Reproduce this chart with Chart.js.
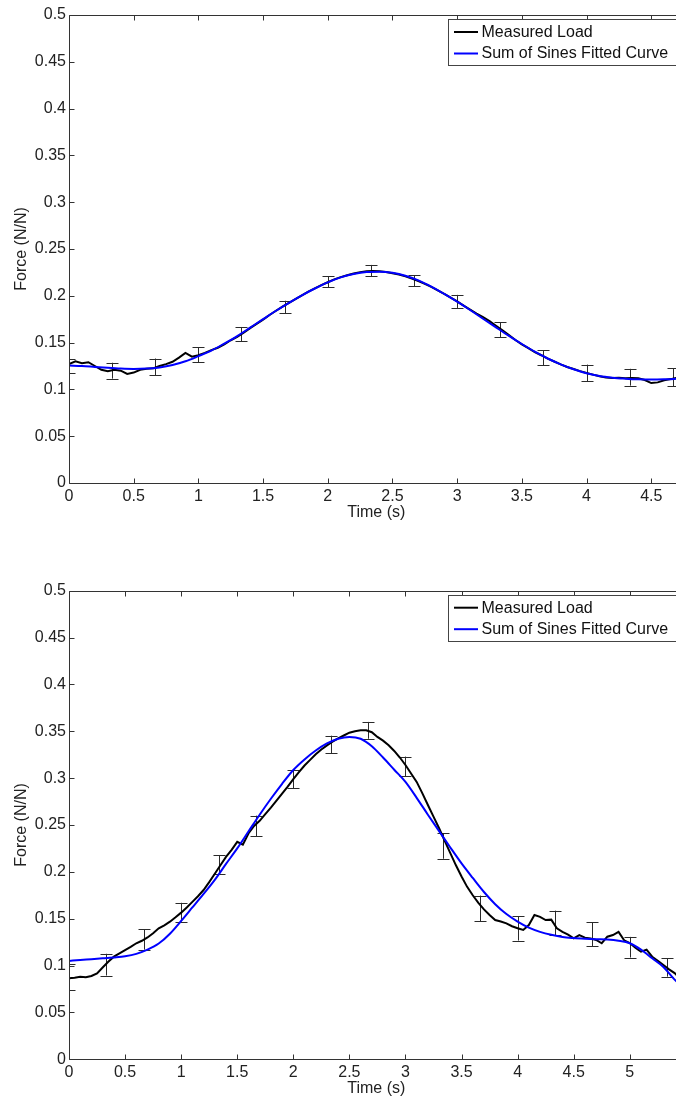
<!DOCTYPE html>
<html><head><meta charset="utf-8">
<script src="https://cdn.jsdelivr.net/npm/chart.js@4.4.1/dist/chart.umd.min.js"></script>
<style>
html,body{margin:0;padding:0;background:#fff;overflow:hidden;width:676px;height:1099px;position:relative;}
canvas{position:absolute;left:0;}
#c1{top:0;} #c2{top:560px;}
</style></head><body>
<canvas id="c1" width="700" height="545"></canvas>
<canvas id="c2" width="700" height="539"></canvas>
<script>
// ---------- shared ticks ----------
const yTicks = [0,0.05,0.1,0.15,0.2,0.25,0.3,0.35,0.4,0.45,0.5];
const yTickLabels = ['0','0.05','0.1','0.15','0.2','0.25','0.3','0.35','0.4','0.45','0.5'];
const seriesLabels = ['Measured Load','Sum of Sines Fitted Curve'];

// ---------- top chart ----------
const topXTicks = [0,0.5,1,1.5,2,2.5,3,3.5,4,4.5];
const topXTickLabels = ['0','0.5','1','1.5','2','2.5','3','3.5','4','4.5'];
const topMeasT = [0,0.05,0.1,0.15,0.2,0.25,0.3,0.35,0.4,0.45,0.5,0.55,0.6,0.65,0.7,0.75,0.8,0.85,0.9,0.95,1,1.05,1.1,1.15,1.2,1.25,1.3,1.35,1.4,1.45,1.5,1.55,1.6,1.65,1.7,1.75,1.8,1.85,1.9,1.95,2,2.05,2.1,2.15,2.2,2.25,2.3,2.35,2.4,2.45,2.5,2.55,2.6,2.65,2.7,2.75,2.8,2.85,2.9,2.95,3,3.05,3.1,3.15,3.2,3.25,3.3,3.35,3.4,3.45,3.5,3.55,3.6,3.65,3.7,3.75,3.8,3.85,3.9,3.95,4,4.05,4.1,4.15,4.2,4.25,4.3,4.35,4.4,4.45,4.5,4.55,4.6,4.65,4.7,4.75];
const topMeasF = [0.127,0.130,0.128,0.129,0.125,0.121,0.1195,0.121,0.120,0.1165,
0.118,0.121,0.122,0.1225,0.125,0.127,0.1295,0.134,0.139,0.135,
0.1365,0.139,0.142,0.1445,0.148,0.1525,0.156,0.1605,0.1655,0.170,
0.1745,0.1795,0.184,0.1885,0.1925,0.1965,0.2005,0.2045,0.2080,0.2115,
0.2145,0.2175,0.2200,0.2220,0.2238,0.2252,0.2262,0.2266,0.2262,0.2254,
0.2242,0.2228,0.2208,0.2185,0.2158,0.2128,0.2095,0.2058,0.2020,0.1980,
0.1940,0.1895,0.1852,0.1810,0.1772,0.1730,0.1680,0.1630,0.1580,0.1528,
0.1482,0.1440,0.1398,0.1365,0.1328,0.1298,0.1268,0.1240,0.1218,0.1195,
0.1175,0.1158,0.1140,0.1128,0.1122,0.1125,0.1120,0.1122,0.1118,0.1100,
0.1068,0.1075,0.1098,0.1110,0.1125,0.1128];
const topFitT = [0,0.1,0.2,0.3,0.4,0.5,0.6,0.7,0.8,0.9,1,1.1,1.2,1.3,1.4,1.5,1.6,1.7,1.8,1.9,2,2.1,2.2,2.3,2.4,2.5,2.6,2.7,2.8,2.9,3,3.1,3.2,3.3,3.4,3.5,3.6,3.7,3.8,3.9,4,4.1,4.2,4.3,4.4,4.5,4.6,4.7,4.75];
const topFitF = [0.1255,0.1250,0.1240,0.1230,0.1222,0.1218,0.1222,0.1235,0.1260,0.1300,
0.1355,0.1415,0.1490,0.1570,0.1660,0.1750,0.1840,0.1925,0.2005,0.2078,
0.2144,0.2197,0.2233,0.2254,0.2258,0.2246,0.2215,0.2165,0.2098,0.2020,
0.1937,0.1848,0.1755,0.1663,0.1572,0.1485,0.1403,0.1330,0.1268,0.1215,
0.1172,0.1142,0.1125,0.1115,0.1108,0.1105,0.1108,0.1115,0.1120];
const topErrT = [0,0.333,0.667,1,1.333,1.667,2,2.333,2.667,3,3.333,3.667,4,4.333,4.667];
const topErrM = [0.1255,0.120,0.124,0.137,0.159,0.188,0.215,0.227,0.216,0.194,0.164,0.134,0.1175,0.113,0.113];
const topErrH = [0.0075,0.0085,0.009,0.008,0.0077,0.0067,0.006,0.006,0.006,0.007,0.008,0.008,0.009,0.009,0.0095];

// ---------- bottom chart ----------
const botXTicks = [0,0.5,1,1.5,2,2.5,3,3.5,4,4.5,5];
const botXTickLabels = ['0','0.5','1','1.5','2','2.5','3','3.5','4','4.5','5'];
const botMeasT = [0,0.05,0.1,0.15,0.2,0.25,0.3,0.35,0.4,0.45,0.5,0.55,0.6,0.65,0.7,0.75,0.8,0.85,0.9,0.95,1,1.05,1.1,1.15,1.2,1.25,1.3,1.35,1.4,1.45,1.5,1.55,1.6,1.65,1.7,1.75,1.8,1.85,1.9,1.95,2,2.05,2.1,2.15,2.2,2.25,2.3,2.35,2.4,2.45,2.5,2.55,2.6,2.65,2.7,2.75,2.8,2.85,2.9,2.95,3,3.05,3.1,3.15,3.2,3.25,3.3,3.35,3.4,3.45,3.5,3.55,3.6,3.65,3.7,3.75,3.8,3.85,3.9,3.95,4,4.05,4.1,4.15,4.2,4.25,4.3,4.35,4.4,4.45,4.5,4.55,4.6,4.65,4.7,4.75,4.8,4.85,4.9,4.95,5,5.05,5.1,5.15,5.2,5.25,5.3,5.35,5.4,5.45];
const botMeasF = [0.0864,0.0870,0.0880,0.0875,0.0889,0.0917,0.0980,0.1040,0.1095,0.1130,
0.1166,0.1200,0.1238,0.1265,0.1300,0.1345,0.1398,0.1430,0.1468,0.1515,
0.1565,0.1620,0.1680,0.1740,0.1806,0.1890,0.1980,0.2070,0.2160,0.2235,
0.2320,0.2290,0.2410,0.2490,0.2545,0.2615,0.2685,0.2760,0.2835,0.2910,
0.2990,0.3065,0.3135,0.3195,0.3255,0.3305,0.3350,0.3390,0.3425,0.3455,
0.3485,0.3500,0.3512,0.3510,0.3490,0.3440,0.3400,0.3350,0.3290,0.3220,
0.3140,0.3050,0.2960,0.2840,0.2713,0.2590,0.2465,0.2330,0.2200,0.2070,
0.1950,0.1840,0.1750,0.1670,0.1600,0.1540,0.1486,0.1470,0.1450,0.1420,
0.1398,0.1380,0.1433,0.1540,0.1520,0.1486,0.1490,0.1398,0.1360,0.1330,
0.1290,0.1326,0.1298,0.1290,0.1273,0.1238,0.1308,0.1326,0.1360,0.1270,
0.1240,0.1190,0.1148,0.1170,0.1095,0.1050,0.1006,0.0960,0.0920,0.0860];
const botFitT = [0,0.1,0.2,0.3,0.4,0.5,0.6,0.7,0.8,0.9,1,1.1,1.2,1.3,1.4,1.5,1.6,1.7,1.8,1.9,2,2.1,2.2,2.3,2.4,2.5,2.6,2.7,2.8,2.9,3,3.1,3.2,3.3,3.4,3.5,3.6,3.7,3.8,3.9,4,4.1,4.2,4.3,4.4,4.5,4.6,4.7,4.8,4.9,5,5.1,5.2,5.3,5.4,5.48];
const botFitF = [0.105,0.1060,0.1068,0.1077,0.1087,0.1100,0.1125,0.1170,0.1235,0.1340,
0.1476,0.1620,0.1765,0.1915,0.2085,0.2250,0.2430,0.2610,0.2780,0.2940,
0.3087,0.3200,0.3295,0.3370,0.3420,0.3440,0.3420,0.3340,0.3220,0.3090,
0.2960,0.2790,0.2610,0.2435,0.2260,0.2090,0.1935,0.1785,0.1655,0.1550,
0.1470,0.1405,0.1360,0.1328,0.1305,0.1294,0.1287,0.1282,0.1278,0.1265,
0.1238,0.1170,0.1078,0.0985,0.0850,0.076];
const botErrT = [0,0.333,0.667,1,1.333,1.667,2,2.333,2.667,3,3.333,3.667,4,4.333,4.667,5,5.333];
const botErrM = [0.088,0.101,0.128,0.157,0.208,0.249,0.299,0.336,0.351,0.3125,0.2275,0.161,0.1397,0.1456,0.1337,0.1196,0.098];
const botErrH = [0.014,0.0116,0.011,0.010,0.010,0.011,0.0098,0.0093,0.009,0.0105,0.0135,0.0137,0.013,0.013,0.0128,0.011,0.0098];

// ---------- rendering ----------
const FONT = "'Liberation Sans', Arial, Helvetica, sans-serif";
const TXT = '#222';
const AXC = '#333';

const errorBarPlugin = {
  id: 'errorBars',
  beforeDatasetsDraw(chart, args, opts) {
    const {ctx, chartArea: a} = chart;
    const xs = chart.scales.x, ys = chart.scales.y;
    ctx.save();
    ctx.beginPath(); ctx.rect(a.left, a.top, a.right - a.left, a.bottom - a.top); ctx.clip();
    ctx.strokeStyle = '#2a2a2a'; ctx.lineWidth = 1;
    opts.t.forEach((t, i) => {
      const px = Math.round(xs.getPixelForValue(t)) + 0.5;
      const y1 = ys.getPixelForValue(opts.m[i] + opts.h[i]);
      const y2 = ys.getPixelForValue(opts.m[i] - opts.h[i]);
      ctx.beginPath();
      ctx.moveTo(px, y1); ctx.lineTo(px, y2);
      ctx.moveTo(px - 6, Math.round(y1) + 0.5); ctx.lineTo(px + 6, Math.round(y1) + 0.5);
      ctx.moveTo(px - 6, Math.round(y2) + 0.5); ctx.lineTo(px + 6, Math.round(y2) + 0.5);
      ctx.stroke();
    });
    ctx.restore();
  }
};

const framePlugin = {
  id: 'frame',
  afterDatasetsDraw(chart, args, opts) {
    const {ctx, chartArea: a} = chart;
    const xs = chart.scales.x, ys = chart.scales.y;
    ctx.save();
    ctx.strokeStyle = AXC; ctx.lineWidth = 1;
    const L = Math.round(a.left) + 0.5, R = Math.round(a.right) + 0.5;
    const T = Math.round(a.top) + 0.5, B = Math.round(a.bottom) + 0.5;
    ctx.beginPath();
    ctx.rect(L, T, R - L, B - T);
    xs.ticks.forEach(tk => {
      const px = Math.round(xs.getPixelForValue(tk.value)) + 0.5;
      ctx.moveTo(px, B); ctx.lineTo(px, B - 5);
      ctx.moveTo(px, T); ctx.lineTo(px, T + 5);
    });
    ys.ticks.forEach(tk => {
      const py = Math.round(ys.getPixelForValue(tk.value)) + 0.5;
      ctx.moveTo(L, py); ctx.lineTo(L + 5, py);
      ctx.moveTo(R, py); ctx.lineTo(R - 5, py);
    });
    ctx.stroke();
    ctx.restore();
  },
  afterDraw(chart) {
    // legend box (top-right, inside axes)
    const {ctx, chartArea: a} = chart;
    const left = Math.round(a.right - 236) + 0.5;
    const top = Math.round(a.top + 4) + 0.5;
    const w = 233, h = 46;
    ctx.save();
    ctx.fillStyle = '#fff';
    ctx.fillRect(left, top, w, h);
    ctx.strokeStyle = '#444'; ctx.lineWidth = 1;
    ctx.strokeRect(left, top, w, h);
    const ys = [a.top + 17, a.top + 38.5];
    chart.data.datasets.forEach((ds, i) => {
      ctx.strokeStyle = ds.borderColor; ctx.lineWidth = 2;
      ctx.beginPath();
      ctx.moveTo(left + 5.5, ys[i]); ctx.lineTo(left + 29.5, ys[i]);
      ctx.stroke();
      ctx.fillStyle = '#111';
      ctx.font = '16px ' + FONT;
      ctx.textBaseline = 'middle'; ctx.textAlign = 'left';
      ctx.fillText(ds.label, left + 33, ys[i] + 0.5);
    });
    ctx.restore();
  }
};

function makeChart(id, cfg) {
  const tickFont = {family: FONT, size: 16};
  return new Chart(document.getElementById(id), {
    type: 'scatter',
    data: {
      datasets: [
        {label: seriesLabels[0], data: cfg.measT.map((t, i) => ({x: t, y: cfg.measF[i]})),
         showLine: true, borderColor: '#000000', borderWidth: 2, pointRadius: 0, tension: 0, order: 2},
        {label: seriesLabels[1], data: cfg.fitT.map((t, i) => ({x: t, y: cfg.fitF[i]})),
         showLine: true, borderColor: '#0000ff', borderWidth: 2, pointRadius: 0, tension: 0.4,
         cubicInterpolationMode: 'monotone', order: 1}
      ]
    },
    options: {
      responsive: false, animation: false, events: [],
      layout: {padding: cfg.pad},
      plugins: {
        legend: {display: false}, tooltip: {enabled: false},
        errorBars: {t: cfg.errT, m: cfg.errM, h: cfg.errH}
      },
      scales: {
        x: {
          type: 'linear', min: 0, max: cfg.xMax,
          afterBuildTicks: s => { s.ticks = cfg.xTicks.map(v => ({value: v})); },
          afterFit: s => { s.height = 39; },
          grid: {display: false, drawTicks: false}, border: {display: false},
          ticks: {font: tickFont, color: TXT, padding: 4, maxRotation: 0, autoSkip: false,
                  callback: (v, i) => cfg.xLabels[i]},
          title: {display: true, text: 'Time (s)', font: tickFont, color: TXT, padding: {top: 0, bottom: 0}}
        },
        y: {
          type: 'linear', min: 0, max: 0.5,
          afterBuildTicks: s => { s.ticks = yTicks.map(v => ({value: v})); },
          afterFit: s => { s.width = 69; },
          grid: {display: false, drawTicks: false}, border: {display: false},
          ticks: {font: tickFont, color: TXT, padding: 3, autoSkip: false,
                  callback: (v, i) => yTickLabels[i]},
          title: {display: true, text: 'Force (N/N)', font: tickFont, color: TXT, padding: {top: 11.5, bottom: 0}}
        }
      }
    },
    plugins: [errorBarPlugin, framePlugin]
  });
}

makeChart('c1', {measT: topMeasT, measF: topMeasF, fitT: topFitT, fitF: topFitF,
  errT: topErrT, errM: topErrM, errH: topErrH, xMax: 4.75, xTicks: topXTicks, xLabels: topXTickLabels,
  pad: {top: 15, right: 16.4, left: 0, bottom: 23}});
makeChart('c2', {measT: botMeasT, measF: botMeasF, fitT: botFitT, fitF: botFitF,
  errT: botErrT, errM: botErrM, errH: botErrH, xMax: 5.48, xTicks: botXTicks, xLabels: botXTickLabels,
  pad: {top: 30.7, right: 16.4, left: 0, bottom: 0.7}});
</script>
</body></html>
